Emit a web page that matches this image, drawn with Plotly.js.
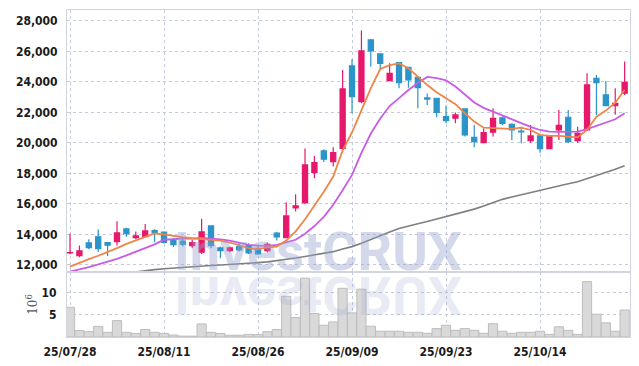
<!DOCTYPE html>
<html>
<head>
<meta charset="utf-8">
<script src="https://cdn.plot.ly/plotly-3.0.1.min.js"></script>
<style>
html,body{margin:0;padding:0;background:#fff;}
#chart{width:639px;height:366px;}
</style>
</head>
<body>
<div id="chart"></div>
<script>
var dates = ["2025-07-28","2025-07-29","2025-07-30","2025-07-31","2025-08-01","2025-08-04","2025-08-05","2025-08-06","2025-08-07","2025-08-08",
"2025-08-11","2025-08-12","2025-08-13","2025-08-14","2025-08-18","2025-08-19","2025-08-20","2025-08-21","2025-08-22","2025-08-25",
"2025-08-26","2025-08-27","2025-08-28","2025-08-29","2025-09-01","2025-09-02","2025-09-03","2025-09-04","2025-09-05","2025-09-08",
"2025-09-09","2025-09-10","2025-09-11","2025-09-12","2025-09-15","2025-09-16","2025-09-17","2025-09-18","2025-09-19","2025-09-22",
"2025-09-23","2025-09-24","2025-09-25","2025-09-26","2025-09-29","2025-09-30","2025-10-01","2025-10-02","2025-10-10","2025-10-13",
"2025-10-14","2025-10-15","2025-10-16","2025-10-17","2025-10-20","2025-10-21","2025-10-22","2025-10-23","2025-10-24","2025-10-27"];

var openP  = [12780,12610,13440,13840,13465,13530,14360,13790,13860,14250,
14150,13600,13570,13270,12830,14560,13115,12940,13200,13270,
13090,12940,14080,13790,15740,16090,18055,19475,18780,19650,
25050,22710,26755,25840,24090,25270,24965,24300,22950,22930,
21730,21620,22230,20370,20020,20700,21640,21225,20780,20155,
20460,19630,20855,21685,20155,20855,24240,23150,22440,23260];
var highP  = [14050,13270,13680,14320,13510,14860,14430,14190,14690,14340,
14170,13750,13720,13640,15020,14570,13200,13200,13420,13420,
13200,13465,14165,16110,16635,19630,19150,19585,19715,24790,
25490,27370,26820,25860,25225,25290,24985,24350,23250,22950,
22450,21990,22250,21180,20965,22275,21730,21290,21070,21180,
20480,20480,22165,22165,21070,24570,24460,24065,23585,25335];
var lowP   = [12700,12500,13030,12850,12590,13270,13840,13680,13810,13490,
13400,13180,13200,13090,12720,13100,12440,12830,12875,12720,
12660,12830,13600,13750,15500,15980,17685,18755,18450,19540,
21950,22600,25005,24790,24060,23580,23625,22280,22490,21685,
21290,21290,20415,19715,19980,20415,21180,20200,19980,20010,
19365,19610,20200,19980,20010,20790,21825,22430,21850,23150];
var closeP = [12800,12920,13140,13070,13290,14100,14055,13900,14230,14120,
13470,13330,13350,13465,14165,13270,12940,13115,12985,12790,
12720,13355,13840,15215,15870,18560,18710,18930,19365,23540,
23040,26035,26035,25225,24570,23960,24130,23625,22880,22010,
21465,21840,20525,20090,20680,21620,21290,20855,20720,20460,
19630,20460,21160,20090,20635,23805,23955,22450,22590,23980];

var maShort = [11890,12150,12380,12600,12830,13100,13380,13600,13830,14060,
14000,13900,13815,13750,13685,13640,13600,13470,13310,13100,
13030,13150,13200,13600,14200,15000,15900,16800,17800,19500,
20700,22100,23600,24850,25100,25220,24900,24350,23800,23320,
22930,22540,21950,21400,21000,20960,20920,20920,21000,20850,
20530,20460,20460,20420,20370,20850,21720,22120,22640,23480];
var maMid = [11560,11700,11860,12030,12200,12400,12620,12860,13100,13350,
13650,13700,13720,13730,13780,13720,13680,13590,13450,13320,
13260,13250,13320,13500,13650,14050,14550,15150,15950,16900,
17900,19350,20620,21610,22420,22940,23470,23930,24330,24250,
24100,23700,23150,22650,22300,22050,21750,21500,21270,21050,
20850,20740,20720,20720,20740,20900,21120,21330,21550,21950];
var maLong = [11000,11080,11160,11240,11320,11400,11480,11550,11620,11690,
11750,11800,11850,11890,11930,11960,11990,12020,12060,12100,
12150,12200,12270,12350,12450,12550,12660,12760,12870,13050,
13200,13420,13680,13930,14160,14390,14560,14700,14850,15010,
15160,15320,15500,15660,15870,16090,16300,16460,16610,16770,
16900,17040,17180,17320,17460,17650,17860,18050,18270,18500];

var volumeM = [6.7,1.45,1.2,2.4,1.05,3.7,1.05,0.8,1.7,1.05,
0.8,0.45,0.2,0.2,2.95,1.05,0.8,0.4,0.4,0.6,
0.55,1.2,1.7,9.2,4.4,13.3,5.3,2.66,3.4,11.0,
5.45,10.8,2.43,1.3,1.3,1.3,1.07,1.07,0.85,1.9,
2.66,1.5,1.9,1.5,0.85,3.0,1.3,0.85,1.07,1.07,
1.3,0.6,2.3,1.5,0.6,12.5,5.15,3.2,1.3,6.1];

var xTickVals = ["2025-07-28","2025-08-11","2025-08-26","2025-09-09","2025-09-23","2025-10-14"];
var xTickText = ["25/07/28","25/08/11","25/08/26","25/09/09","25/09/23","25/10/14"];
var priceTicks = [12000,14000,16000,18000,20000,22000,24000,26000,28000];
var volTicks = [5,10];
var watermark = "InvestCRUX";

var upColor = "#e6186b", downColor = "#2b94c9";
var tickFont = {family:"DejaVu Sans Condensed, Liberation Sans Narrow, sans-serif", size:12, weight:"bold", color:"#1a1a1a"};
var gridC = "#c5cadc";

var traces = [
  {type:"bar", x:dates, y:volumeM, xaxis:"x", yaxis:"y2",
   marker:{color:"#d9d9d9", line:{color:"#bdbdbd", width:1}}, hoverinfo:"skip"},
  {type:"candlestick", x:dates, open:openP, high:highP, low:lowP, close:closeP,
   xaxis:"x", yaxis:"y",
   increasing:{line:{color:upColor, width:1.2}, fillcolor:upColor},
   decreasing:{line:{color:downColor, width:1.2}, fillcolor:downColor},
   hoverinfo:"skip"},
  {type:"scatter", mode:"lines", x:dates, y:maLong, xaxis:"x", yaxis:"y",
   line:{color:"#7f7f7f", width:1.6}, hoverinfo:"skip"},
  {type:"scatter", mode:"lines", x:dates, y:maMid, xaxis:"x", yaxis:"y",
   line:{color:"#c85ce6", width:1.8}, hoverinfo:"skip"},
  {type:"scatter", mode:"lines", x:dates, y:maShort, xaxis:"x", yaxis:"y",
   line:{color:"#f0854a", width:1.8}, hoverinfo:"skip"}
];

var split = 0.199;
var layout = {
  width:639, height:366,
  margin:{l:67, r:9, t:10, b:29, pad:0},
  paper_bgcolor:"#ffffff", plot_bgcolor:"#ffffff",
  showlegend:false, bargap:0.02, boxgap:0.22,
  xaxis:{type:"category", range:[-0.32,59.57], anchor:"y2",
    tickmode:"array", tickvals:xTickVals, ticktext:xTickText,
    tickfont:tickFont, ticks:"outside", ticklen:4, tickcolor:"rgba(0,0,0,0)",
    showgrid:true, gridcolor:gridC, griddash:"dot", gridwidth:1,
    showline:true, linecolor:"#d3d5de", linewidth:1, mirror:"all",
    rangeslider:{visible:false}, fixedrange:true},
  yaxis:{domain:[split,1], range:[11540,28720],
    tickmode:"array", tickvals:priceTicks, tickformat:",d",
    tickfont:tickFont, ticks:"outside", ticklen:6, tickcolor:"rgba(0,0,0,0)",
    showgrid:true, gridcolor:gridC, griddash:"dot", gridwidth:1,
    showline:true, linecolor:"#d3d5de", linewidth:1, mirror:true,
    zeroline:false, fixedrange:true},
  yaxis2:{domain:[0,split], range:[0,14.7],
    tickmode:"array", tickvals:volTicks,
    tickfont:tickFont, ticks:"outside", ticklen:7, tickcolor:"rgba(0,0,0,0)",
    showgrid:true, gridcolor:gridC, griddash:"dot", gridwidth:1,
    showline:true, linecolor:"#d3d5de", linewidth:1, mirror:true,
    zeroline:false, fixedrange:true,
    title:{text:"10<sup>6</sup>", font:{family:"DejaVu Serif, serif", size:12, color:"#555"}, standoff:1}},
  annotations:[
    {text:watermark, xref:"paper", yref:"paper", x:0.445, y:0.262, xanchor:"center", yanchor:"middle",
     showarrow:false, font:{family:"Roboto, sans-serif", size:54, weight:"bold", color:"rgba(150,163,205,0.42)"}},
    {text:watermark, xref:"paper", yref:"paper", x:0.445, y:0.128, xanchor:"center", yanchor:"middle",
     showarrow:false, font:{family:"Roboto, sans-serif", size:54, weight:"bold", color:"rgba(150,163,205,0.22)"}}
  ]
};

Plotly.newPlot("chart", traces, layout, {displayModeBar:false, staticPlot:true}).then(function(){
  var anns = document.querySelectorAll("#chart .annotation-text");
  if (anns.length > 1) {
    var t = anns[1];
    t.style.transformBox = "fill-box";
    t.style.transformOrigin = "center";
    t.style.transform = "scaleY(-1)";
  }
});
</script>
</body>
</html>
